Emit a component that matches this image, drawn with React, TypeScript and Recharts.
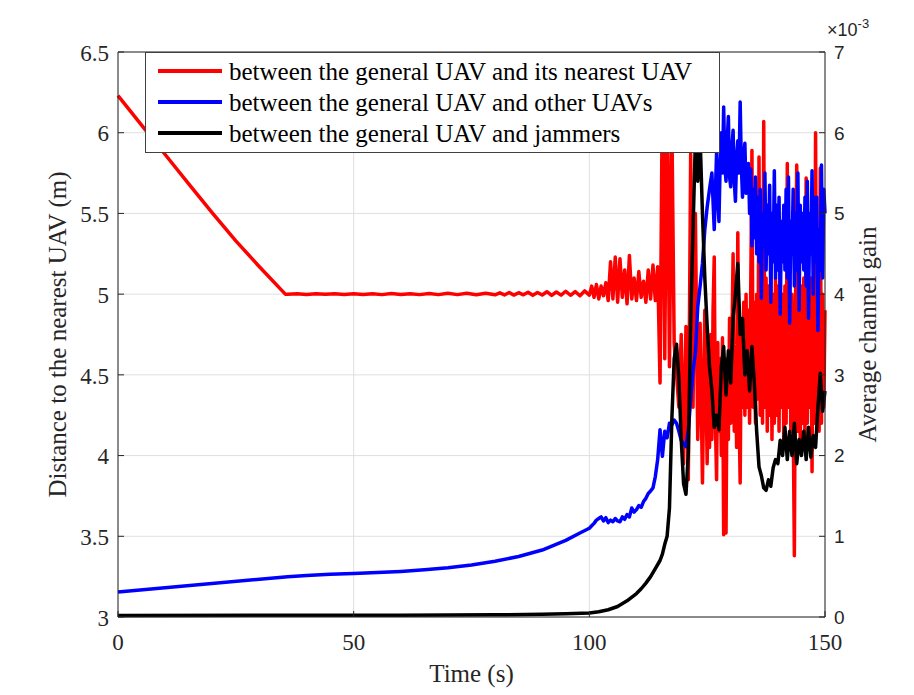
import React from 'react';
import { LineChart, Line, XAxis, YAxis, CartesianGrid, ReferenceLine, Label } from 'recharts';

const SERIF = '"Liberation Serif", "Times New Roman", serif';
const SANS = '"Liberation Sans", Arial, sans-serif';
const AXIS = '#262626';

// x axis / y axis ticks
const timeTicks = [0, 50, 100, 150];
const distTicks = [3, 3.5, 4, 4.5, 5, 5.5, 6, 6.5];
const gainTicks = [0, 1, 2, 3, 4, 5, 6, 7];

// red: distance to the nearest UAV (m)
const redEarlyTimes = [0, 5, 10, 15, 20, 25, 30, 35.5];
const redEarly = [6.23, 6.047, 5.865, 5.683, 5.503, 5.33, 5.17, 5.0];
// t = 36..80, every 2 s
const redPlateau = [5.0, 5.002, 4.998, 5.003, 4.999, 5.002, 4.998, 5.003, 4.998, 5.003, 4.997, 5.004,
    4.998, 5.003, 4.997, 5.004, 4.997, 5.005, 4.997, 5.005, 4.996, 5.006, 4.996];
// t = 81..100, every 1 s
const redJitter = [5.008, 4.995, 5.01, 4.994, 5.009, 4.996, 5.012, 4.993, 5.01, 4.995, 5.015, 4.992,
    5.013, 4.994, 5.018, 4.993, 5.016, 4.99, 5.02, 4.994];
// t = 100.5..115, every 0.5 s
const redNoisy = [5.05, 4.98, 5.06, 4.97, 5.05, 4.99, 5.07, 4.96, 5.2, 4.97, 5.23, 4.95, 5.22, 4.98, 5.15,
    4.94, 5.24, 4.97, 5.1, 4.96, 5.14, 4.98, 5.08, 4.95, 5.15, 4.97, 5.18, 4.96, 5.17, 4.45];
// t = 115.5..125, every 0.5 s
const redBurst = [6.3, 4.6, 6.35, 4.55, 6.1, 4.7, 4.5, 4.3, 4.75, 3.95, 4.8, 3.85, 5.87, 4.3, 5.5, 4.1,
    4.82, 3.83, 4.9, 3.95];
// t = 125.25..150, every 0.25 s
const redBand = [
    4.6, 4.05, 4.75, 4.1,
    4.9, 5.23, 4.2, 3.85,
    4.7, 4.15, 4.6, 4.0,
    4.73, 3.51, 4.5, 3.52,
    4.6, 4.1, 4.85, 4.2,
    4.7, 5.25, 4.15, 4.6,
    4.05, 5.38, 4.3, 3.83,
    4.8, 4.3, 4.95, 4.25,
    5.0, 4.3, 4.9, 4.2,
    5.05, 5.89, 4.3, 4.95,
    4.2, 5.0, 4.35, 5.85,
    4.25, 5.1, 4.2, 6.07,
    4.3, 5.1, 4.15, 5.05,
    4.25, 5.13, 4.1, 5.0,
    4.2, 5.1, 4.25, 5.05,
    4.15, 5.13, 4.3, 5.0,
    4.1, 5.05, 4.2, 5.81,
    4.3, 5.1, 4.15, 5.0,
    4.25, 3.38, 4.9, 5.8,
    4.15, 5.1, 4.05, 5.05,
    4.2, 5.1, 4.1, 5.72,
    4.2, 5.0, 4.3, 5.1,
    3.9, 5.05, 4.2, 6.0,
    4.25, 5.1, 4.15, 5.78,
    4.2, 5.0, 4.3, 4.9,
];

// blue: channel gain to other UAVs (x 1e-3)
const blueEarlyTimes = [0, 36, 40, 45, 50, 55, 60, 65, 70, 75, 80, 85, 90, 95, 98, 100];
const blueEarly = [0.31, 0.5, 0.515, 0.53, 0.54, 0.55, 0.565, 0.585, 0.61, 0.645, 0.69, 0.75, 0.83, 0.95,
    1.04, 1.1];
// t = 100.5..127, every 0.5 s
const blueMid = [1.13, 1.16, 1.2, 1.22, 1.24, 1.19, 1.23, 1.17, 1.2, 1.18, 1.22, 1.19, 1.18, 1.24, 1.21,
    1.27, 1.24, 1.35, 1.3, 1.33,
    1.38, 1.36, 1.43, 1.47, 1.53, 1.56, 1.6, 1.74, 1.95, 2.32, 1.99, 2.3, 2.22, 2.4, 2.38, 2.44, 2.4, 2.3,
    2.19, 2.15,
    2.11, 2.32, 2.69, 3.05, 3.27, 3.84, 4.1, 4.38, 4.8, 5.08, 5.3, 5.5, 4.8, 5.75];
// t = 127.25..150, every 0.25 s
const blueBand = [
    5.2, 4.9, 5.6, 6.0,
    5.5, 6.32, 5.6, 5.4,
    5.9, 6.2, 5.45, 5.33,
    5.8, 6.03, 5.4, 5.15,
    5.7, 5.9, 5.5, 6.38,
    5.6, 5.2, 5.7, 5.87,
    5.25, 5.3, 5.62, 5.0,
    5.55, 4.6, 5.3, 4.7,
    5.45, 4.5, 5.2, 4.4,
    5.3, 3.95, 5.0, 4.6,
    5.5, 4.3, 5.1, 4.5,
    5.35, 3.9, 5.0, 4.4,
    5.53, 4.2, 5.1, 4.3,
    5.2, 3.75, 4.9, 4.4,
    5.1, 4.3, 5.3, 4.2,
    5.45, 3.64, 4.9, 4.5,
    5.3, 4.1, 5.0, 4.3,
    5.5, 3.8, 5.1, 4.4,
    5.0, 4.3, 5.2, 4.1,
    5.4, 3.7, 5.0, 4.5,
    5.53, 4.0, 5.2, 4.4,
    5.2, 3.55, 4.8, 4.3,
    5.6, 4.2, 5.3, 5.0,
];

// black: channel gain to jammers (x 1e-3)
const blackEarlyTimes = [0, 60, 80, 90, 95, 100, 102, 104, 106, 108, 110, 111, 112, 113, 114, 115, 115.5];
const blackEarly = [0.02, 0.022, 0.027, 0.033, 0.04, 0.05, 0.065, 0.09, 0.13, 0.2, 0.29, 0.35, 0.42, 0.5,
    0.6, 0.7, 0.78];
// t = 116..150, every 0.5 s
const blackLate = [0.9, 1.0, 1.35, 2.44, 3.2, 3.38, 2.95, 2.2, 1.65,
    1.52, 2.03, 3.68, 4.8, 5.9, 5.4, 5.95, 5.0, 4.2, 3.6, 3.1, 2.81, 2.35, 2.5, 2.32, 3.1, 3.35, 2.75, 3.3, 2.9,
    3.7, 4.0, 4.38, 3.5, 3.7, 3.0, 3.3, 2.8, 3.35, 2.9, 2.3, 1.86, 1.75, 1.6, 1.57, 1.7, 1.62, 1.85, 1.95, 1.9,
    2.19, 2.0, 2.35, 1.95, 2.3, 2.0, 2.4, 1.9, 2.2, 2.0, 2.3, 1.95, 2.35, 1.98, 2.25, 2.1, 2.6, 3.02, 2.55, 2.8];

const legendItems = [
    { label: 'between the general UAV and its nearest UAV', color: '#ff0000' },
    { label: 'between the general UAV and other UAVs', color: '#0000ff' },
    { label: 'between the general UAV and jammers', color: '#000000' },
];

const sampleTimes = (start: number, step: number, count: number) =>
    Array.from({ length: count }, (_, i) => +(start + i * step).toFixed(2));

const zip = (times: number[], values: number[]) => times.map((t, i) => ({ t, v: values[i] }));

const redData = [
    ...zip(redEarlyTimes, redEarly),
    ...zip(sampleTimes(36, 2, redPlateau.length), redPlateau),
    ...zip(sampleTimes(81, 1, redJitter.length), redJitter),
    ...zip(sampleTimes(100.5, 0.5, redNoisy.length), redNoisy),
    ...zip(sampleTimes(115.5, 0.5, redBurst.length), redBurst),
    ...zip(sampleTimes(125.25, 0.25, redBand.length), redBand),
];
const blueData = [
    ...zip(blueEarlyTimes, blueEarly),
    ...zip(sampleTimes(100.5, 0.5, blueMid.length), blueMid),
    ...zip(sampleTimes(127.25, 0.25, blueBand.length), blueBand),
];
const blackData = [
    ...zip(blackEarlyTimes, blackEarly),
    ...zip(sampleTimes(116, 0.5, blackLate.length), blackLate),
];

const serifTick = { fontFamily: SERIF, fontSize: 23, fill: AXIS };
const sansTick = { fontFamily: SANS, fontSize: 19, fill: AXIS };

const LeftTick = ({ x, y, payload }: any) => (
    <g>
        <line x1={x + 9} x2={x + 15} y1={y} y2={y} stroke={AXIS} />
        <text x={x} y={y} dy="0.38em" textAnchor="end" style={serifTick}>
            {payload.value}
        </text>
    </g>
);

const RightTick = ({ x, y, payload }: any) => (
    <g>
        <line x1={x - 15} x2={x - 9} y1={y} y2={y} stroke={AXIS} />
        <text x={x} y={y} dy="0.36em" textAnchor="start" style={sansTick}>
            {payload.value}
        </text>
    </g>
);

const BottomTick = ({ x, y, payload }: any) => (
    <g>
        <line x1={x} x2={x} y1={y - 17} y2={y - 23} stroke={AXIS} />
        <text x={x} y={y} dy="0.71em" textAnchor="middle" style={serifTick}>
            {payload.value}
        </text>
    </g>
);

const labelStyle = { fontFamily: SERIF, fontSize: 25, fill: AXIS, textAnchor: 'middle' as const };

export default function App() {
    return (
        <div style={{ position: 'absolute', left: 0, top: 0, width: 914, height: 695, background: '#fff' }}>
            <LineChart width={914} height={695} margin={{ top: 52, right: 29, bottom: 0, left: 0 }}>
                <CartesianGrid stroke="#dfdfdf" />
                <XAxis
                    type="number"
                    dataKey="t"
                    domain={[0, 150]}
                    ticks={timeTicks}
                    height={78}
                    tickSize={0}
                    tickMargin={17}
                    tick={(p: any) => <BottomTick {...p} />}
                    axisLine={{ stroke: AXIS }}
                >
                    <Label value="Time (s)" position="insideBottom" offset={13} style={labelStyle} />
                </XAxis>
                <YAxis
                    type="number"
                    domain={[3, 6.5]}
                    ticks={distTicks}
                    width={118}
                    tickSize={0}
                    tickMargin={9}
                    tick={(p: any) => <LeftTick {...p} />}
                    axisLine={{ stroke: AXIS }}
                >
                    <Label value="Distance to the nearest UAV (m)" angle={-90} position="insideLeft" offset={57} style={labelStyle} />
                </YAxis>
                <YAxis
                    yAxisId="right"
                    orientation="right"
                    type="number"
                    domain={[0, 7]}
                    ticks={gainTicks}
                    width={60}
                    tickSize={0}
                    tickMargin={9}
                    tick={(p: any) => <RightTick {...p} />}
                    axisLine={{ stroke: AXIS }}
                >
                    <Label value="Average channel gain" angle={-90} position="insideLeft" offset={42} style={labelStyle} />
                </YAxis>
                <ReferenceLine y={6.5} stroke={AXIS} />
                <Line data={redData} dataKey="v" type="linear" stroke="#ff0000" strokeWidth={3.5} dot={false} strokeLinejoin="round" isAnimationActive={false} />
                <Line data={blueData} dataKey="v" yAxisId="right" type="linear" stroke="#0000ff" strokeWidth={3.5} dot={false} strokeLinejoin="round" isAnimationActive={false} />
                <Line data={blackData} dataKey="v" yAxisId="right" type="linear" stroke="#000000" strokeWidth={3.5} dot={false} strokeLinejoin="round" isAnimationActive={false} />
            </LineChart>
            <svg width={914} height={695} style={{ position: 'absolute', left: 0, top: 0, pointerEvents: 'none' }}>
                <text x={827} y={36} style={{ fontFamily: SANS, fontSize: 18, fill: AXIS }}>
                    ×10<tspan dy={-8} style={{ fontSize: 13 }}>-3</tspan>
                </text>
                <rect x={145.5} y={52.5} width={574} height={100} fill="#fff" stroke="#404040" />
                {legendItems.map((item, i) => (
                    <g key={item.label}>
                        <line x1={158} x2={222} y1={71 + i * 31} y2={71 + i * 31} stroke={item.color} strokeWidth={4} />
                        <text x={229} y={80 + i * 31} style={{ fontFamily: SERIF, fontSize: 25, fill: '#000' }}>
                            {item.label}
                        </text>
                    </g>
                ))}
            </svg>
        </div>
    );
}
